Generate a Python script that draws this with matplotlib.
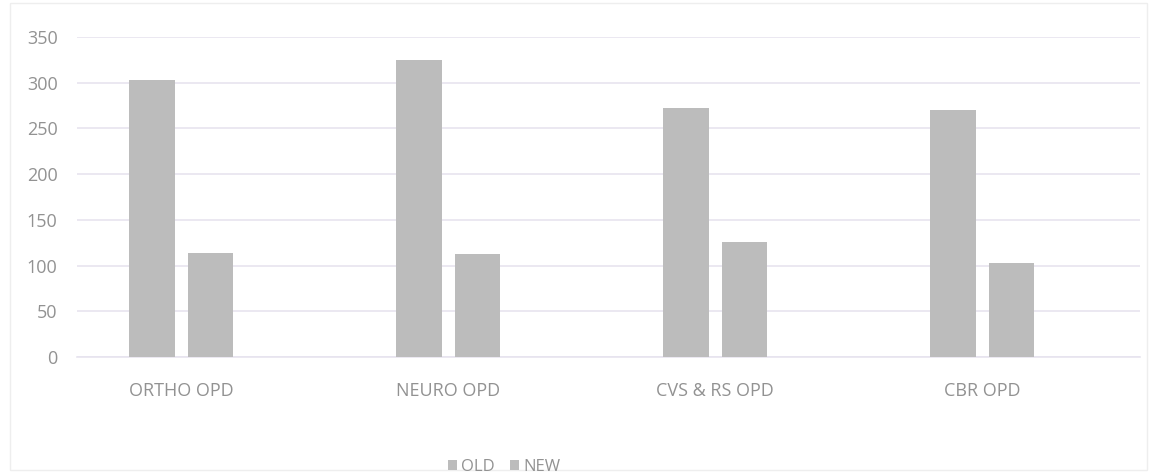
import numpy as np
import matplotlib.pyplot as plt
from matplotlib.patches import Rectangle

# ----------------------------
# Data
# ----------------------------
categories = ["ORTHO OPD", "NEURO OPD", "CVS & RS OPD", "CBR OPD"]
old_values = [303, 325, 272, 270]
new_values = [114, 113, 126, 103]
y_ticks = [0, 50, 100, 150, 200, 250, 300, 350]

bar_color = "#bcbcbc"
text_color = "#929292"
grid_color = "#e7e4ef"

plt.rcParams["font.family"] = ["Open Sans", "DejaVu Sans"]

fig = plt.figure(figsize=(11.57, 4.73), dpi=100)
ax = fig.add_axes([0.0666, 0.2452, 0.9187, 0.6766])

x = np.arange(len(categories))
width = 0.17
offset = 0.11
ax.bar(x - offset, old_values, width, color=bar_color, label="OLD", zorder=3)
ax.bar(x + offset, new_values, width, color=bar_color, label="NEW", zorder=3)

ax.set_xlim(-0.39, 3.59)
ax.set_ylim(0, 350)
ax.set_yticks(y_ticks)
ax.set_xticks(x)
ax.set_xticklabels(categories)
ax.yaxis.grid(True, color=grid_color, linewidth=1.2, zorder=0)
ax.set_axisbelow(True)

for side in ["top", "right", "left"]:
    ax.spines[side].set_visible(False)
ax.spines["bottom"].set_color(grid_color)
ax.spines["bottom"].set_linewidth(1.2)

ax.tick_params(axis="both", length=0, colors=text_color, labelsize=13)
ax.tick_params(axis="y", pad=14)
ax.tick_params(axis="x", pad=18)

leg = fig.legend(loc="center", bbox_to_anchor=(504 / 1157, 1 - 467 / 473),
                 ncol=2, frameon=False, fontsize=12, handlelength=0.55,
                 handleheight=0.55, handletextpad=0.25, columnspacing=0.9)
for t in leg.get_texts():
    t.set_color(text_color)

# faint outer border of the chart area
fig.patches.append(Rectangle((10 / 1157, 3 / 473), 1 - 20 / 1157, 1 - 6 / 473,
                             transform=fig.transFigure, fill=False,
                             edgecolor="#eeeeee", linewidth=1.0))

fig.savefig("out.png", dpi=100)
